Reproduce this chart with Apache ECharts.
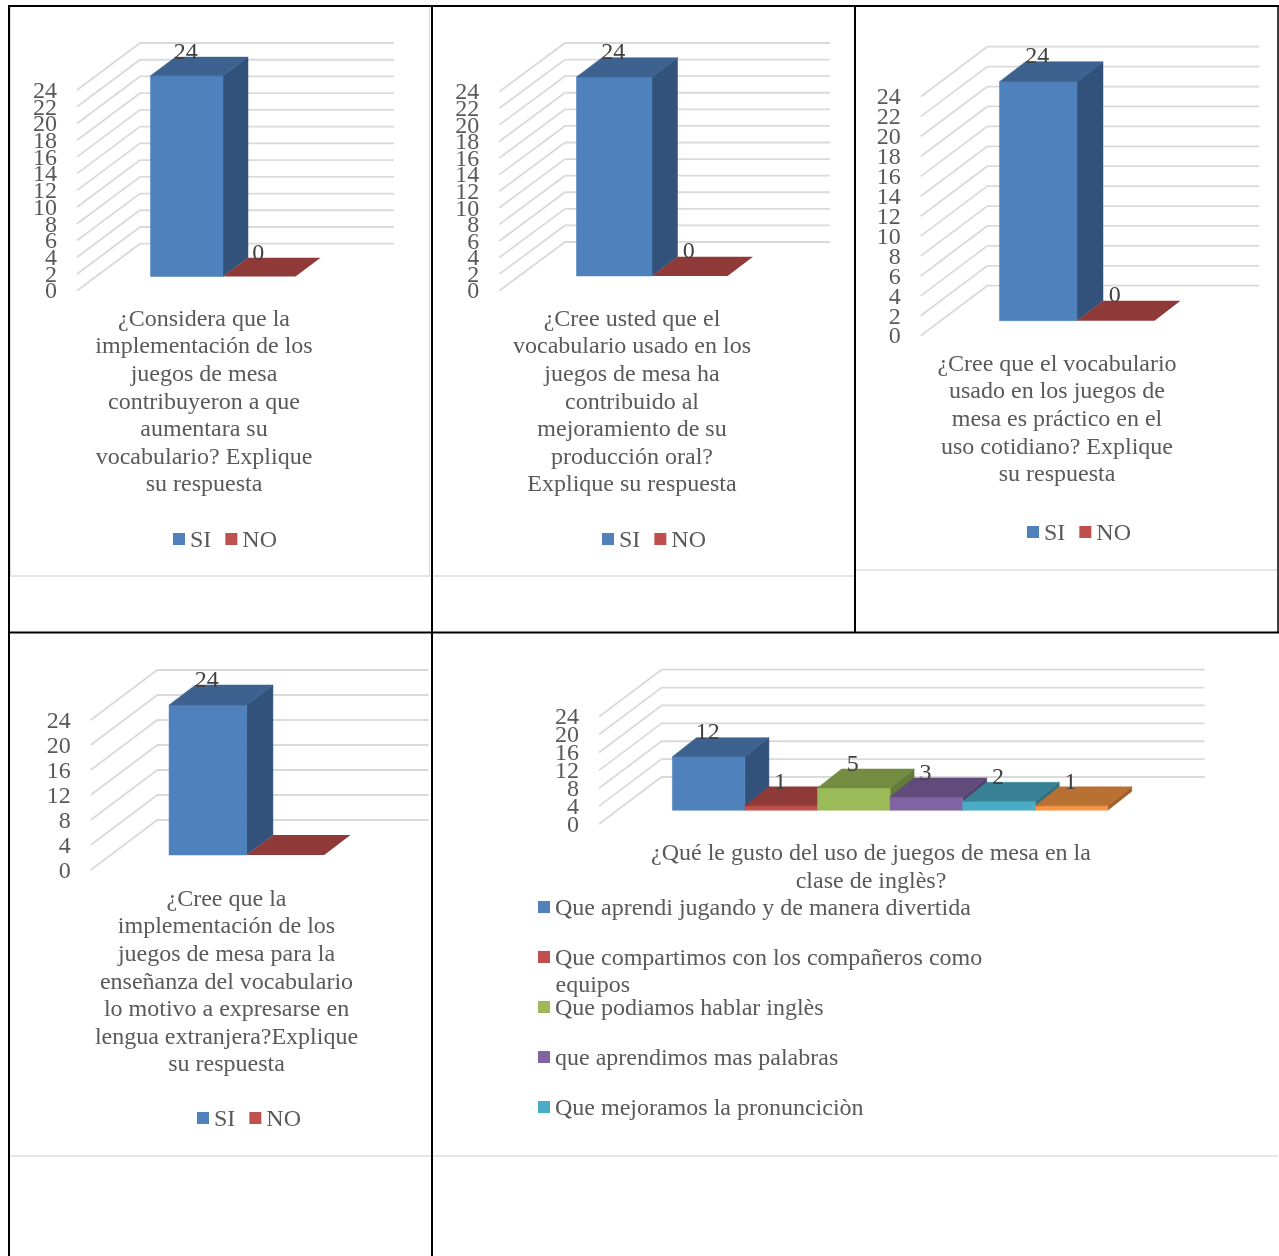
<!DOCTYPE html>
<html><head><meta charset="utf-8">
<style>html,body{margin:0;padding:0;background:#fff}#c{width:1279px;height:1256px}</style>
<script src="https://cdn.jsdelivr.net/npm/echarts@6/dist/echarts.min.js"></script>
</head><body><div id="c"></div>
<script>
// ---- data ----
const questions = [
 "¿Considera que la\nimplementación de los\njuegos de mesa\ncontribuyeron a que\naumentara su\nvocabulario? Explique\nsu respuesta",
 "¿Cree usted que el\nvocabulario usado en los\njuegos de mesa ha\ncontribuido al\nmejoramiento de su\nproducción oral?\nExplique su respuesta",
 "¿Cree que el vocabulario\nusado en los juegos de\nmesa es práctico en el\nuso cotidiano? Explique\nsu respuesta",
 "¿Cree que la\nimplementación de los\njuegos de mesa para la\nenseñanza del vocabulario\nlo motivo a expresarse en\nlengua extranjera?Explique\nsu respuesta"
];
const question5 = "¿Qué le gusto del uso de juegos de mesa en la\nclase de inglès?";
const siNoNames = ["SI", "NO"];
const siValues = [24, 24, 24, 24];
const noValues = [0, 0, 0, 0];
const noLabelShown = [true, true, true, false];
const axisSteps = [2, 2, 2, 4];
const axisStep5 = 4;
const axisMax = 24;
const reasons = ["Que aprendi jugando y de manera divertida","Que compartimos con los compañeros como equipos","Que podiamos hablar inglès","que aprendimos mas palabras","Que mejoramos la pronunciciòn","Otro"];
const reasonValues = [12, 1, 5, 3, 2, 1];

// ---- style ----
const FONT = "'Liberation Serif'";
const TXT = "#595959";
const FACES = [
 ["#4F81BD","#3D6290","#32527B"],
 ["#C0504D","#8F3A38","#7A3230"],
 ["#9BBB59","#748C42","#647A3A"],
 ["#8064A2","#604B7A","#533F6B"],
 ["#4BACC6","#388195","#2F6F80"],
 ["#F79646","#B97033","#A06029"]
];
// swatch drawn in the upper 12px of a 12x16 box so it lines up with the text's visual centre
const SWATCH = 'path://M0,0H12V12H0Z M0,16L0,16';
// tick labels sit this much below the tick's own line in the reference
const LABEL_DROP = 1.5;
// ---- layout: front plane of axis box, wall depth, bar plane, bar depth ----
const layouts = [
 {x:77,   w:254,   top:90,   bottom:290.7, dx:63,   dy:47,   ox:19,   oy:14.2, bdx:25,   bdy:18.7, ratio:.571},
 {x:499.3,w:265,   top:91.7, bottom:290.7, dx:65.7, dy:48.7, ox:20.2, oy:14.7, bdx:25.5, bdy:19.3, ratio:.57},
 {x:920.7,w:272,   top:96.7, bottom:335.7, dx:66.6, dy:50,   ox:20.3, oy:15,   bdx:26,   bdy:20,   ratio:.57},
 {x:90.7, w:271.3, top:720,  bottom:870,   dx:66.6, dy:50,   ox:20.3, oy:15,   bdx:26.3, bdy:20,   ratio:.572},
 {x:599,  w:543,   top:716.7,bottom:824,   dx:62.6, dy:47,   ox:19.6, oy:13.7, bdx:24,   bdy:19,   ratio:.802}
];
const titleSpots = [[204,305.7],[632,305.7],[1057,350.7],[226.5,885.7],[871,840]];
const legendTops = [[173,529],[602,529],[1027,522],[197,1108]];

const grids=[],xAxes=[],yAxes=[],series=[],titles=[],legends=[];

function addPanel(i, name, step, barNames, barValues, showLabels, title){
  const L = layouts[i];
  // the axis runs one step past each end, so that 0 and 24 do not knock out their close neighbours
  const unit=(L.bottom-L.top)/axisMax, pad=step*unit;
  grids.push({left:L.x, top:L.top-pad+LABEL_DROP, width:L.w, height:L.bottom-L.top+2*pad});
  xAxes.push({gridIndex:i, type:'category', data:[name], show:false});
  yAxes.push({gridIndex:i, type:'value', min:-step, max:axisMax+step, interval:step,
    axisLine:{show:false}, axisTick:{show:false}, splitLine:{show:false},
    axisLabel:{margin:20, color:TXT, fontFamily:FONT, fontSize:24, showMinLabel:false, showMaxLabel:false, hideOverlap:false}});
  const ticks=[]; for(let t=0;t<=axisMax;t+=step) ticks.push([0,t]);
  series.push({type:'custom', name:'wall'+i, xAxisIndex:i, yAxisIndex:i, silent:true, data:ticks,
    encode:{x:0,y:1},
    renderItem(p,api){
      const c=api.coord([0,api.value(1)]), cs=p.coordSys, y=c[1]-LABEL_DROP;
      return {type:'polyline', shape:{points:[[cs.x,y],[cs.x+L.dx,y-L.dy],[cs.x+cs.width+L.dx,y-L.dy]]},
        style:{stroke:'#DADADA', lineWidth:1.8, fill:null}};
    }});
  barNames.forEach((n,k)=>{
    const col=FACES[k];
    series.push({type:'custom', name:n, xAxisIndex:i, yAxisIndex:i, silent:true,
      data:[[0,barValues[k]]], encode:{x:0,y:1}, itemStyle:{color:col[0]},
      renderItem(p,api){
        const v=api.value(1), base=api.coord([0,0]), top=api.coord([0,v]);
        const w=api.size([1,0])[0]*L.ratio/barNames.length;
        const x0=base[0]+L.ox-w*barNames.length/2+k*w, x1=x0+w;
        const y0=base[1]-L.oy-LABEL_DROP, y1=top[1]-L.oy-LABEL_DROP, ax=L.bdx, ay=L.bdy;
        const face=(pts,c)=>({type:'polygon',shape:{points:pts},style:{fill:c,stroke:v>0?c:null,lineWidth:v>0?.5:0}});
        const kids=[];
        if(v>0){
          kids.push(face([[x1,y0],[x1+ax,y0-ay],[x1+ax,y1-ay],[x1,y1]],col[2]));
          kids.push(face([[x0,y0],[x1,y0],[x1,y1],[x0,y1]],col[0]));
        }
        kids.push(face([[x0,y1],[x1,y1],[x1+ax,y1-ay],[x0+ax,y1-ay]],col[1]));
        if(showLabels[k]) kids.push({type:'text',z2:100,style:{text:String(v),x:(x0+x1)/2-1,y:y1-ay-4.5,
          fill:'#404040',font:'24px '+FONT,textAlign:'center',textVerticalAlign:'middle'}});
        return {type:'group',children:kids};
      }});
  });
  titles.push({text:title,left:titleSpots[i][0],top:titleSpots[i][1],textAlign:'center',padding:0,
    textStyle:{color:TXT,fontFamily:FONT,fontSize:24,fontWeight:'normal',lineHeight:27.6}});
}
for(let i=0;i<4;i++){
  addPanel(i,'q'+(i+1),axisSteps[i],siNoNames,[siValues[i],noValues[i]],[true,noLabelShown[i]],questions[i]);
  legends.push({data:siNoNames,left:legendTops[i][0],top:legendTops[i][1],padding:0,itemWidth:12,itemHeight:16,itemGap:14,icon:SWATCH,
    selectedMode:false,textStyle:{color:TXT,fontFamily:FONT,fontSize:24}});
}
addPanel(4,'q5',axisStep5,reasons,reasonValues,reasons.map(()=>true),question5);
legends.push({data:reasons.slice(0,5),orient:'vertical',left:538,top:897,padding:0,itemWidth:12,itemHeight:16,itemGap:26,icon:SWATCH,
  selectedMode:false,formatter:n=>n.replace(' equipos',''),
  textStyle:{color:TXT,fontFamily:FONT,fontSize:24}});

// ---- table rules ----
const rule=(x1,y1,x2,y2,c,w)=>({type:'line',silent:true,z:50,shape:{x1,y1,x2,y2},style:{stroke:c,lineWidth:w}});
const graphic=[
 rule(10.5,7,10.5,576,'#E3E3E3',1.5), rule(429.5,7,429.5,576,'#E3E3E3',1.5),
 rule(10,576,432,576,'#DEDEDE',1.5), rule(433,576,855,576,'#DEDEDE',1.5), rule(856,570,1278,570,'#DEDEDE',1.5),
 rule(10,1156,1278,1156,'#DEDEDE',1.5),
 rule(8,6,1279,6,'#000',2), rule(9,5,9,1256,'#000',2),
 rule(432,6,432,1256,'#000',2), rule(855,6,855,632,'#000',2),
 rule(1278,6,1278,632,'#000',1.5),
 rule(9,632.5,1279,632.5,'#000',2),
 {type:'text',silent:true,style:{text:'equipos',x:555.5,y:986,fill:TXT,font:'24px '+FONT,textVerticalAlign:'middle'}}
];

const chart=echarts.init(document.getElementById('c'),null,{renderer:'canvas'});
chart.setOption({animation:false,backgroundColor:'#fff',title:titles,legend:legends,grid:grids,xAxis:xAxes,yAxis:yAxes,series,graphic,tooltip:{show:false}});
</script></body></html>
